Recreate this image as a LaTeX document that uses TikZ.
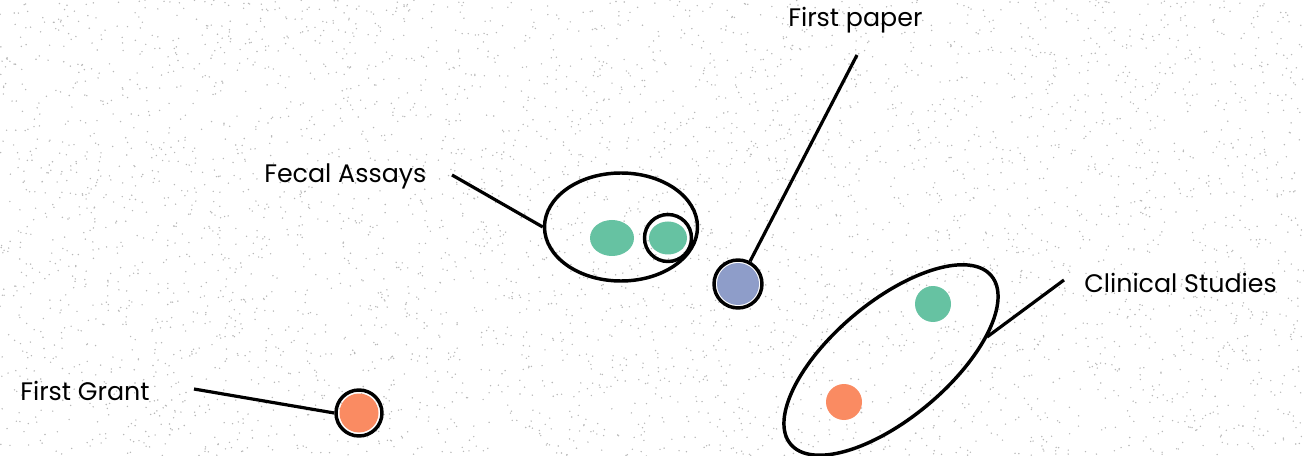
\documentclass[tikz,border=0pt]{standalone}
\usepackage{fontspec}
\setmainfont{Poppins}
\usetikzlibrary{shapes.geometric}
\definecolor{dotgreen}{HTML}{66C2A2}
\definecolor{dotorange}{HTML}{FA8B62}
\definecolor{dotblue}{HTML}{8E9DC9}
\definecolor{speck}{HTML}{B8B8B8}
\tikzset{
  ring/.style={draw=black, line width=2.6pt},
  lead/.style={draw=black, line width=2.4pt},
  lbl/.style={font=\fontsize{19}{22}\selectfont, inner sep=0pt, anchor=west}
}
\begin{document}
\begin{tikzpicture}[x=0.75pt,y=-0.75pt]
\useasboundingbox (0,0) rectangle (1304,456);
% background speckle
\pgfmathsetseed{4242}
\foreach \i in {1,...,4500}{
  \pgfmathsetmacro{\px}{rnd*1304}
  \pgfmathsetmacro{\py}{rnd*456}
  \fill[speck] (\px,\py) circle[radius=0.6pt];
}
% Fecal Assays
\node[ring, ellipse, minimum width=153pt*0.75, minimum height=108pt*0.75, inner sep=0pt] (fecal) at (621,227) {};
\fill[dotgreen] (612,238) ellipse[x radius=22*0.75pt, y radius=18*0.75pt];
\node[ring, circle, minimum size=47*0.75pt, inner sep=0pt] (fring) at (668,238) {};
\fill[dotgreen] (668,238) ellipse[x radius=19*0.75pt, y radius=16.5*0.75pt];
\node[lbl] (fecallbl) at (264,176) {Fecal Assays};
\coordinate (fecalend) at (452,175);
\draw[lead] (fecalend) -- (fecal.west);
% First paper
\fill[dotblue] (738,284) circle[radius=21*0.75pt];
\node[ring, circle, minimum size=48*0.75pt, inner sep=0pt] (paper) at (738,284) {};
\node[lbl] (paperlbl) at (788,20) {First paper};
\coordinate (paperend) at (857,55);
\draw[lead] (paperend) -- (paper.62);
% Clinical Studies
\node[ring, ellipse, rotate=40, minimum width=262*0.75pt, minimum height=116*0.75pt, inner sep=0pt] (clin) at (891,360) {};
\fill[dotgreen] (933,304) circle[radius=18*0.75pt];
\fill[dotorange] (844,402) circle[radius=18*0.75pt];
\node[lbl] (clinlbl) at (1084,283) {Clinical Studies};
\coordinate (clinend) at (1064,280);
\draw[lead] (clinend) -- (987,337);
% First Grant
\fill[dotorange] (359,413) circle[radius=19.5*0.75pt];
\node[ring, circle, minimum size=46*0.75pt, inner sep=0pt] (grant) at (359,413) {};
\node[lbl] (grantlbl) at (20,391) {First Grant};
\coordinate (grantend) at (194,389);
\draw[lead] (grantend) -- (grant.west);
\end{tikzpicture}
\end{document}
